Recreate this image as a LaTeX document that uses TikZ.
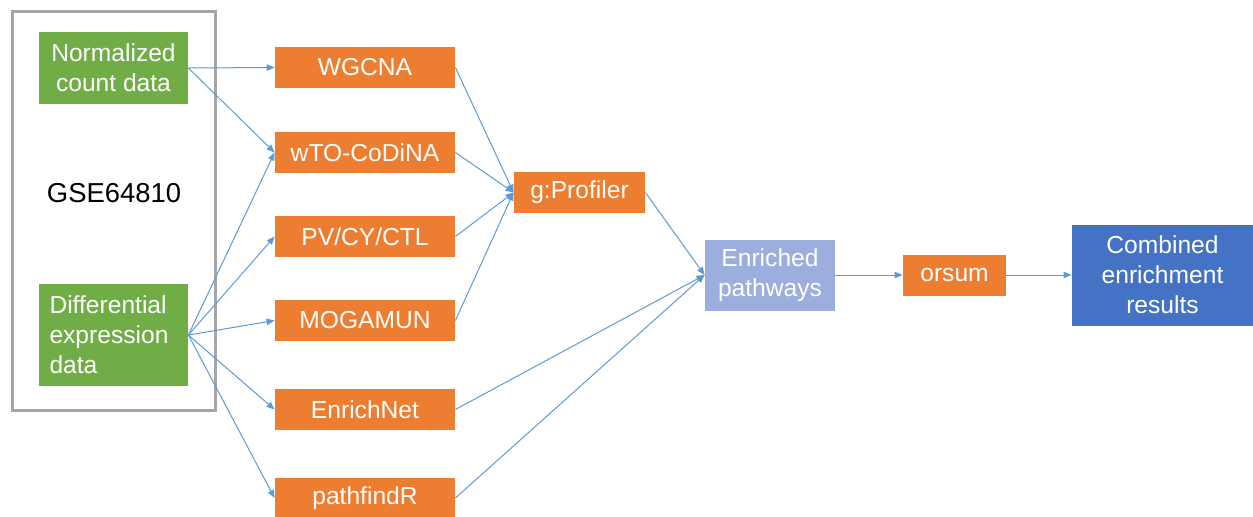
\documentclass[tikz,border=0pt]{standalone}
\usepackage{fontspec}
\setmainfont{Liberation Sans}
\usepackage{xcolor}
\usetikzlibrary{arrows.meta, positioning, calc}

\definecolor{boxgreen}{RGB}{112,173,71}
\definecolor{boxorange}{RGB}{237,125,49}
\definecolor{boxblue}{RGB}{68,114,196}
\definecolor{boxlilac}{RGB}{156,174,222}
\definecolor{arrowblue}{RGB}{91,155,213}
\definecolor{framegray}{RGB}{166,166,166}

\begin{document}
\begin{tikzpicture}[
    x=0.5pt, y=-0.5pt,
    box/.style={inner sep=0pt, align=center, text=white, font=\fontsize{12.3}{15}\selectfont},
    tool/.style={box, fill=boxorange, minimum width=90pt, minimum height=20.5pt},
    data/.style={box, fill=boxgreen, minimum width=74.5pt},
    arrow/.style={-{Triangle[length=4pt, width=3.2pt]}, draw=arrowblue, line width=0.5pt}
]
    \useasboundingbox (0,0) rectangle (1253,516);
    \draw[framegray, line width=1.5pt] (12,11) rectangle (215,410);
    \node[font=\fontsize{13.7}{16}\selectfont] (gse) at (114,193) {GSE64810};

    \node[data, minimum height=36pt] (norm) at (113.5,68) {Normalized\\count data};
    \node[data, minimum height=51pt, align=left, text width=64pt] (diff) at (113.5,335) {Differential\\expression\\data};

    \node[tool] (wgcna) at (365,67.5) {WGCNA};
    \node[tool] (wto) at (365,152.5) {wTO-CoDiNA};
    \node[tool] (pv) at (365,236.5) {PV/CY/CTL};
    \node[tool] (mog) at (365,320.5) {MOGAMUN};
    \node[tool] (enet) at (365,409.5) {EnrichNet};
    \node[tool] (pfr) at (365,498) {pathfindR};

    \node[tool, minimum width=65.5pt] (gprof) at (579.5,192.5) {g:Profiler};
    \node[box, fill=boxlilac, minimum width=65pt, minimum height=35.5pt] (enr) at (770,275) {Enriched\\pathways};
    \node[tool, minimum width=51.5pt] (orsum) at (954.5,275) {orsum};
    \node[box, fill=boxblue, minimum width=90.5pt, minimum height=50.5pt] (comb) at (1162.5,275) {Combined\\enrichment\\results};

    % inputs to the tools
    \draw[arrow] (norm.east) -- (wgcna.west);
    \draw[arrow] (norm.east) -- (wto.west);
    \foreach \t in {wto, pv, mog, enet, pfr}
        \draw[arrow] (diff.east) -- (\t.west);

    % tools to g:Profiler and enrichment
    \foreach \t in {wgcna, wto, pv, mog}
        \draw[arrow] (\t.east) -- (gprof.west);
    \draw[arrow] (gprof.east) -- (enr.west);
    \draw[arrow] (enet.east) -- (enr.west);
    \draw[arrow] (pfr.east) -- (enr.west);

    \draw[arrow] (enr.east) -- (orsum.west);
    \draw[arrow] (orsum.east) -- (comb.west);
\end{tikzpicture}
\end{document}
